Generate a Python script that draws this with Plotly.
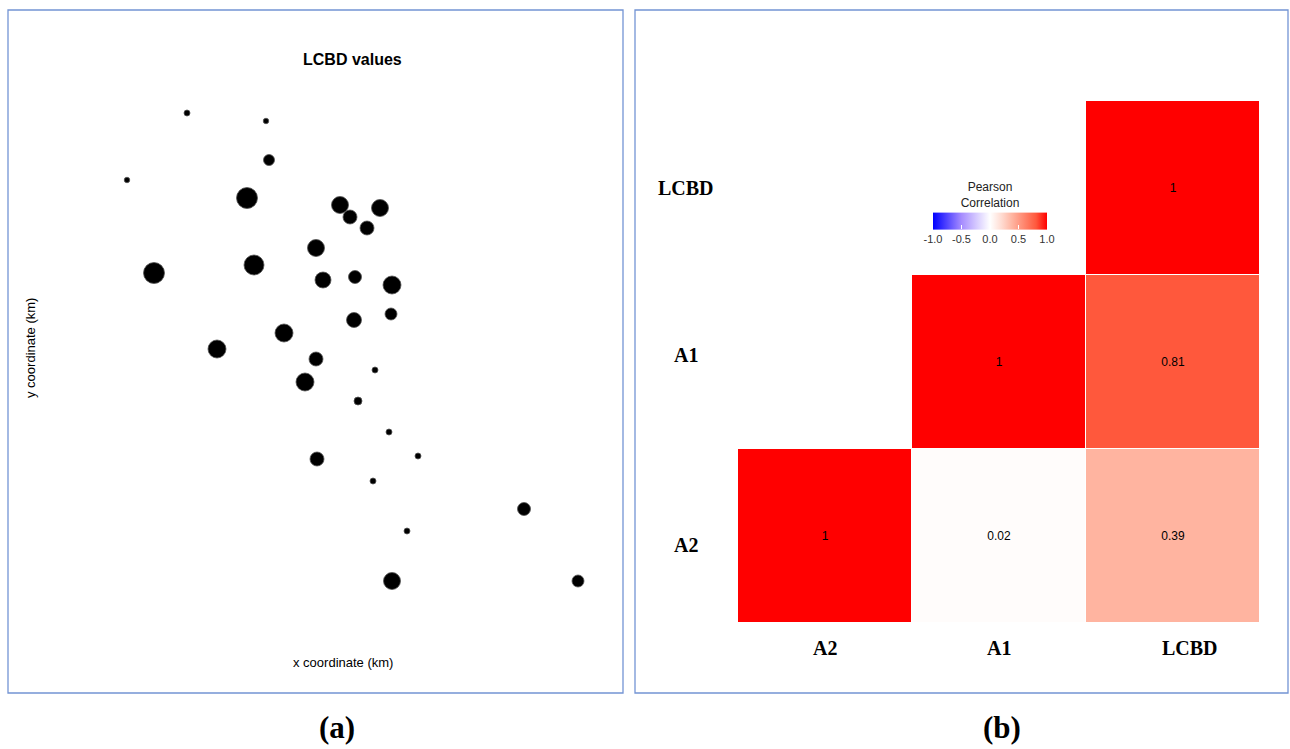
import plotly.graph_objects as go

W, H = 1290, 749

# ---- Panel (a): LCBD bubble map ----
x_km = [8.7, 16.6, 16.9, 2.7, 14.7, 24.0, 28.0, 25.0, 26.7, 21.6,
        5.4, 15.4, 22.3, 25.5, 29.2, 25.4, 29.1, 18.4, 11.7, 21.6,
        20.5, 27.5, 25.8, 28.9, 31.8, 21.7, 27.3, 42.4, 30.7, 29.2, 47.8]
y_km = [48.7, 47.9, 44.0, 42.0, 40.2, 39.5, 39.2, 38.3, 37.2, 35.2,
        32.7, 33.5, 32.0, 32.3, 31.5, 28.0, 28.6, 26.7, 25.1, 24.1,
        21.8, 23.0, 19.9, 16.8, 14.4, 14.1, 11.9, 9.1, 6.9, 1.9, 1.9]
lcbd = [0.0150, 0.0138, 0.0275, 0.0138, 0.0525, 0.0425, 0.0425, 0.0350, 0.0350, 0.0425,
        0.0525, 0.0500, 0.0400, 0.0325, 0.0450, 0.0375, 0.0300, 0.0450, 0.0450, 0.0350,
        0.0450, 0.0150, 0.0200, 0.0150, 0.0150, 0.0350, 0.0150, 0.0325, 0.0150, 0.0425, 0.0300]

# ---- Panel (b): correlation matrix ----
variables = ["A2", "A1", "LCBD"]
corr = [[1.00, 0.02, 0.39],
        [0.02, 1.00, 0.81],
        [0.39, 0.81, 1.00]]
cbar_ticks = [-1.0, -0.5, 0.0, 0.5, 1.0]
cbar_text = ["-1.0", "-0.5", "0.0", "0.5", "1.0"]


def px_x(p):
    return p / W


def px_y(p):
    return 1 - p / H


# upper triangle only (column index >= row index)
z = []
txt = []
for i in range(3):
    row = []
    trow = []
    for j in range(3):
        if j >= i:
            v = corr[i][j]
            row.append(v)
            trow.append("1" if v == 1 else f"{v:g}")
        else:
            row.append(None)
            trow.append("")
    z.append(row)
    txt.append(trow)

fig = go.Figure()

fig.add_trace(go.Scatter(
    x=x_km, y=y_km, mode="markers",
    marker=dict(size=[v * 400 for v in lcbd], color="black", opacity=1,
                line=dict(color="#555555", width=0.8)),
    xaxis="x", yaxis="y", showlegend=False, hoverinfo="skip"))

colorscale = [
    [0.0, "#0000FF"],
    [0.25, "#A68CFF"],
    [0.4, "#DCD2FF"],
    [0.5, "#FFFFFF"],
    [0.6, "#FFDCD2"],
    [0.695, "#FFB4A0"],
    [0.905, "#FF583C"],
    [1.0, "#FF0000"],
]

sans = "Liberation Sans, Arial"
serif = "Liberation Serif, Times New Roman"

fig.add_trace(go.Heatmap(
    x=variables, y=variables, z=z, text=txt, texttemplate="%{text}",
    textfont=dict(family=sans, size=12, color="black"),
    zmin=-1, zmax=1, colorscale=colorscale, xgap=1, ygap=1,
    xaxis="x2", yaxis="y2", hoverongaps=False,
    colorbar=dict(
        orientation="h", x=px_x(990), xanchor="center",
        y=px_y(183), yanchor="top",
        lenmode="pixels", len=114, thickness=17,
        outlinewidth=0,
        tickvals=cbar_ticks, ticktext=cbar_text,
        ticks="inside", ticklen=4, tickcolor="white",
        tickfont=dict(family=sans, size=11, color="#333333"),
        title=dict(text="Pearson<br>Correlation", side="top",
                   font=dict(family=sans, size=12, color="#222222")),
        ypad=0, xpad=0,
    )))

axis_off = dict(showgrid=False, zeroline=False, showticklabels=False,
                showline=False, ticks="")

fig.update_layout(
    width=W, height=H, margin=dict(l=0, r=0, t=0, b=0),
    paper_bgcolor="white", plot_bgcolor="white",
    xaxis=dict(domain=[px_x(100), px_x(600)], range=[0, 50], **axis_off),
    yaxis=dict(domain=[px_y(600), px_y(100)], range=[0, 50], **axis_off),
    xaxis2=dict(domain=[px_x(738), px_x(1260)], anchor="y2",
                range=[-0.5, 2.5], **axis_off),
    yaxis2=dict(domain=[px_y(623), px_y(101)], anchor="x2",
                range=[-0.5, 2.5], **axis_off),
)

border = dict(color="#7394D4", width=1.3)
fig.add_shape(type="rect", xref="paper", yref="paper",
              x0=px_x(8), x1=px_x(623), y0=px_y(693), y1=px_y(10), line=border)
fig.add_shape(type="rect", xref="paper", yref="paper",
              x0=px_x(635), x1=px_x(1288), y0=px_y(693), y1=px_y(10), line=border)


def label(text, x, y, size, family, angle=0):
    fig.add_annotation(text=text, xref="paper", yref="paper",
                       x=px_x(x), y=px_y(y), xanchor="center", yanchor="middle",
                       showarrow=False, textangle=angle,
                       font=dict(family=family, size=size, color="black"))


label("<b>LCBD values</b>", 352, 60, 16, sans)
label("x coordinate (km)", 343, 662, 13, sans)
label("y coordinate (km)", 30, 348, 13, sans, angle=-90)
label("<b>(a)</b>", 337, 727, 31, serif)
label("<b>(b)</b>", 1002, 727, 31, serif)

# heatmap axis labels
yshifts = {"A2": -9, "A1": 7, "LCBD": 0}
for v in variables:
    fig.add_annotation(text=f"<b>{v}</b>", xref="paper", yref="y2",
                       x=px_x(686), y=v, xanchor="center", yanchor="middle",
                       showarrow=False, yshift=yshifts[v],
                       font=dict(family=serif, size=20, color="black"))
    fig.add_annotation(text=f"<b>{v}</b>", xref="x2", yref="paper",
                       x=v, y=px_y(648), xanchor="center", yanchor="middle",
                       showarrow=False,
                       xshift=17 if v == "LCBD" else 0,
                       font=dict(family=serif, size=20, color="black"))

fig.write_html("out.html", config={"displayModeBar": False},
               post_script="document.body.style.margin='0';document.body.style.overflow='hidden';")
